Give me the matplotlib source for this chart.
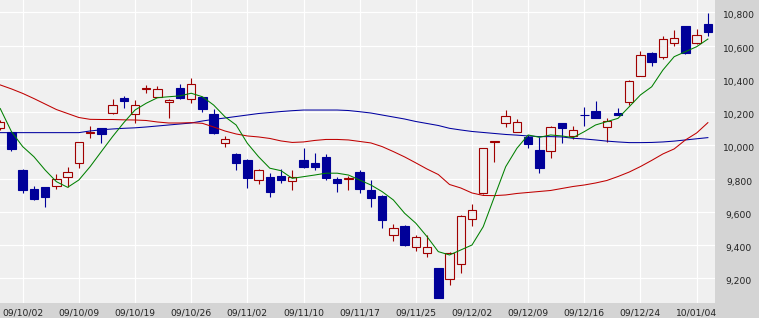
import matplotlib
matplotlib.use("Agg")
import matplotlib.pyplot as plt
from matplotlib.patches import Rectangle
from matplotlib.transforms import ScaledTranslation

# Daily candles, 09/09/30 .. 10/01/05 (64 sessions)
opens = [10106, 10082, 9851, 9737, 9747, 9755, 9807, 9895, 10076, 10102,
         10196, 10286, 10186, 10341, 10292, 10259, 10343, 10277, 10289, 10188,
         10012, 9948, 9912, 9791, 9807, 9815, 9785, 9912, 9892, 9931,
         9795, 9799, 9838, 9731, 9695, 9460, 9515, 9386, 9354, 9260,
         9194, 9284, 9557, 9711, 10020, 10136, 10082, 10052, 9972, 9966,
         10132, 10058, 10184, 10206, 10112, 10196, 10259, 10419, 10557, 10529,
         10617, 10718, 10614, 10730]
highs = [10150, 10085, 9857, 9755, 9750, 9827, 9871, 10020, 10116, 10105,
         10277, 10297, 10272, 10363, 10357, 10277, 10367, 10403, 10292, 10218,
         10056, 9955, 9915, 9855, 9832, 9856, 9851, 9982, 9952, 9948,
         9811, 9815, 9851, 9791, 9700, 9527, 9520, 9460, 9460, 9262,
         9356, 9578, 9647, 9985, 10025, 10212, 10156, 10060, 10048, 10115,
         10135, 10116, 10229, 10266, 10162, 10223, 10390, 10569, 10560, 10657,
         10694, 10720, 10698, 10798]
lows = [10090, 9966, 9715, 9670, 9631, 9739, 9747, 9862, 10042, 10016,
        10186, 10223, 10132, 10313, 10290, 10162, 10277, 10253, 10202, 10066,
        9988, 9851, 9741, 9767, 9691, 9771, 9731, 9862, 9851, 9791,
        9721, 9731, 9715, 9631, 9501, 9426, 9394, 9366, 9326, 9080,
        9160, 9234, 9516, 9705, 9901, 10108, 10080, 9986, 9835, 9922,
        10012, 10036, 10116, 10162, 10022, 10180, 10242, 10415, 10479, 10519,
        10599, 10550, 10610, 10659]
closes = [10142, 9978, 9731, 9675, 9691, 9797, 9838, 10018, 10080, 10066,
          10241, 10266, 10241, 10345, 10337, 10272, 10286, 10367, 10217, 10076,
          10036, 9895, 9805, 9851, 9721, 9791, 9811, 9871, 9871, 9805,
          9771, 9803, 9735, 9681, 9551, 9501, 9400, 9447, 9386, 9083,
          9350, 9573, 9611, 9982, 10024, 10176, 10142, 10006, 9865, 10112,
          10106, 10092, 10180, 10166, 10146, 10182, 10387, 10543, 10499, 10638,
          10644, 10553, 10663, 10683]

# moving averages
ma_short = [10221, 10082, 9992, 9931, 9851, 9781, 9747, 9791, 9871, 9962,
            10052, 10136, 10212, 10253, 10286, 10292, 10297, 10313, 10292, 10242,
            10172, 10122, 10012, 9931, 9862, 9847, 9801, 9811, 9821, 9832,
            9832, 9821, 9791, 9761, 9721, 9671, 9591, 9531, 9450, 9360,
            9340, 9370, 9400, 9510, 9691, 9871, 9982, 10062, 10048, 10062,
            10056, 10046, 10082, 10122, 10142, 10162, 10232, 10303, 10352, 10453,
            10533, 10563, 10593, 10639]
ma_mid = [10363, 10339, 10312, 10281, 10248, 10215, 10191, 10167, 10156, 10155,
          10155, 10153, 10152, 10149, 10140, 10134, 10134, 10136, 10132, 10110,
          10086, 10068, 10056, 10050, 10041, 10026, 10017, 10020, 10029, 10035,
          10035, 10032, 10023, 10014, 9992, 9962, 9930, 9894, 9857, 9824,
          9764, 9743, 9713, 9698, 9697, 9701, 9710, 9716, 9722, 9728,
          9740, 9752, 9761, 9773, 9788, 9812, 9839, 9872, 9909, 9948,
          9978, 10032, 10074, 10136]
ma_long = [10076, 10076, 10076, 10076, 10076, 10076, 10076, 10076, 10086, 10093,
           10098, 10102, 10105, 10110, 10116, 10122, 10128, 10134, 10146, 10156,
           10164, 10173, 10182, 10191, 10197, 10203, 10208, 10212, 10212, 10212,
           10212, 10209, 10202, 10194, 10182, 10170, 10158, 10143, 10131, 10119,
           10102, 10092, 10083, 10077, 10071, 10065, 10061, 10056, 10052, 10052,
           10050, 10042, 10038, 10032, 10025, 10020, 10016, 10016, 10017, 10020,
           10025, 10032, 10039, 10046]

date_ticks = [2, 7, 12, 17, 22, 27, 32, 37, 42, 47, 52, 57, 62]
date_labels = ["09/10/02", "09/10/09", "09/10/19", "09/10/26", "09/11/02",
               "09/11/10", "09/11/17", "09/11/25", "09/12/02", "09/12/09",
               "09/12/16", "09/12/24", "10/01/04"]
price_ticks = [9200, 9400, 9600, 9800, 10000, 10200, 10400, 10600, 10800]

UP = "#a00000"
DOWN = "#000099"
PANEL = "#d4d4d4"
PLOT_BG = "#f0f0f0"
TEXT = "#222222"

fig = plt.figure(figsize=(7.59, 3.18), dpi=100)
fig.patch.set_facecolor(PANEL)
ax = fig.add_axes([0, 15 / 318, 714.5 / 759, 303 / 318])
ax.set_facecolor(PLOT_BG)
for s in ax.spines.values():
    s.set_visible(False)

ax.set_xlim(-0.02, 63.59)
ax.set_ylim(9051, 10874)
ax.set_xticks(date_ticks)
ax.set_xticklabels(date_labels)
ax.set_yticks(price_ticks)
ax.set_yticklabels([f"{v:,}" for v in price_ticks])
ax.grid(True, color="white", linewidth=0.9)
ax.set_axisbelow(True)
ax.yaxis.tick_right()
ax.tick_params(length=0, labelsize=6.6, labelcolor=TEXT)
ax.tick_params(axis="x", pad=4)
ax.tick_params(axis="y", pad=17.6)
for lab in ax.get_yticklabels():
    lab.set_horizontalalignment("center")
    lab.set_transform(lab.get_transform()
                      + ScaledTranslation(0, -2.7 / 100, fig.dpi_scale_trans))

width = 0.75
for i, (o, h, l, c) in enumerate(zip(opens, highs, lows, closes)):
    up = c >= o
    color = UP if up else DOWN
    lo, hi = min(o, c), max(o, c)
    ax.vlines(i, l, lo, color=color, linewidth=0.8, zorder=2)
    ax.vlines(i, hi, h, color=color, linewidth=0.8, zorder=2)
    ax.add_patch(Rectangle((i - width / 2, lo), width, hi - lo,
                           facecolor=PLOT_BG if up else DOWN,
                           edgecolor=color, linewidth=0.8, zorder=3))

x = range(len(closes))
ax.plot(x, ma_long, color="#0000a0", linewidth=0.75, zorder=4)
ax.plot(x, ma_mid, color="#c00000", linewidth=0.75, zorder=4)
ax.plot(x, ma_short, color="#008000", linewidth=0.75, zorder=4)

fig.savefig("out.png", dpi=100, facecolor=PANEL)
